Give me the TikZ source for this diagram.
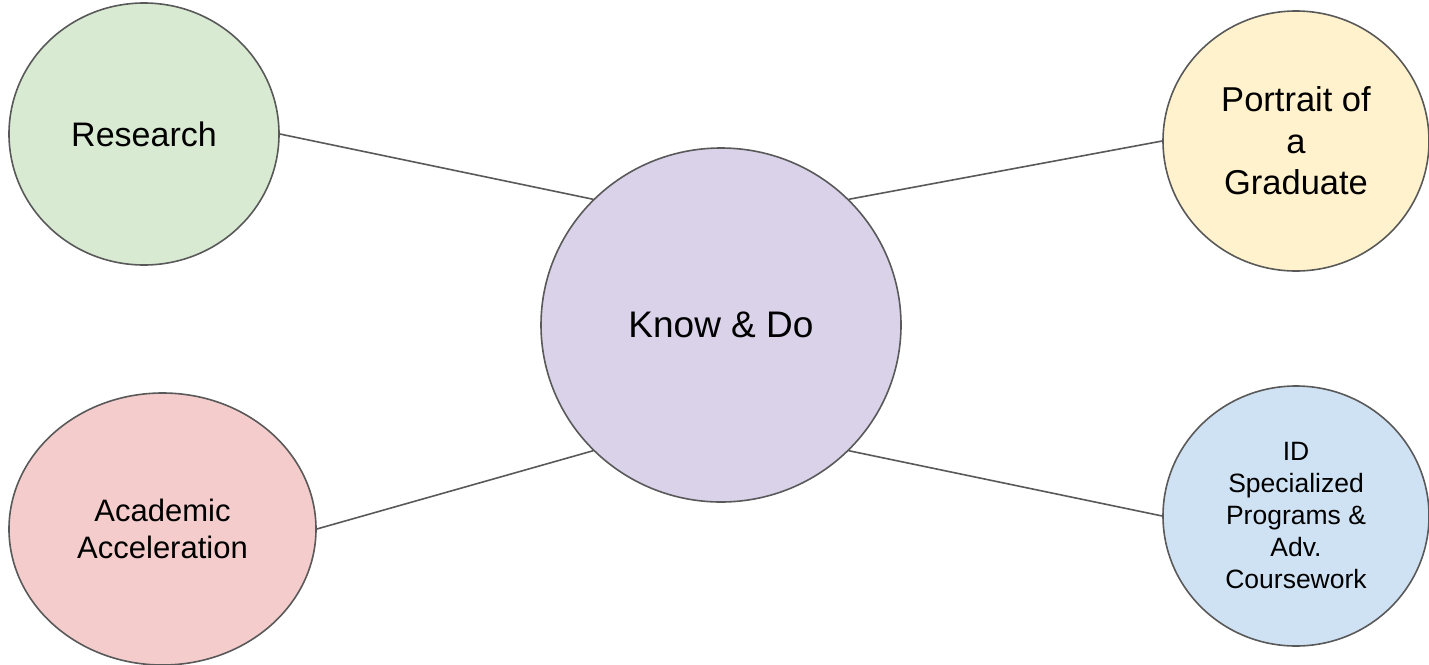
\documentclass[tikz,border=0pt]{standalone}
\usepackage{fontspec}
\setmainfont{Liberation Sans}
\usetikzlibrary{shapes.geometric}
\definecolor{cgreen}{HTML}{D9EAD3}
\definecolor{cyellow}{HTML}{FFF2CC}
\definecolor{cpurple}{HTML}{D9D2E9}
\definecolor{cred}{HTML}{F4CCCC}
\definecolor{cblue}{HTML}{CFE2F3}
\definecolor{edge}{HTML}{595959}
\tikzset{
  bubble/.style={ellipse, draw=edge, line width=1.6pt, inner sep=0pt, align=center, text=black},
  link/.style={draw=edge, line width=1.6pt}
}
\begin{document}
\begin{tikzpicture}[x=1pt,y=-1pt]
\useasboundingbox (0,0) rectangle (1429,664);
\node[bubble, fill=cpurple, minimum width=360pt, minimum height=354pt,
  font=\fontsize{37}{44}\selectfont] (know) at (721,325) {Know \& Do};
\node[bubble, fill=cgreen, minimum width=270pt, minimum height=262pt,
  font=\fontsize{34}{41}\selectfont] (research) at (144,134) {Research};
\node[bubble, fill=cyellow, minimum width=266pt, minimum height=260pt,
  font=\fontsize{34.5}{41.6}\selectfont] (portrait) at (1296,141) {Portrait of\\a\\Graduate};
\node[bubble, fill=cred, minimum width=307pt, minimum height=272pt,
  font=\fontsize{31}{37.3}\selectfont] (accel) at (162.5,529) {Academic\\Acceleration};
\node[bubble, fill=cblue, minimum width=266pt, minimum height=260pt,
  font=\fontsize{26.5}{32}\selectfont] (id) at (1296,516) {ID\\Specialized\\Programs \&\\Adv.\\Coursework};
\draw[link] (research.east) -- (know.north west);
\draw[link] (portrait.west) -- (know.north east);
\draw[link] (accel.east) -- (know.south west);
\draw[link] (id.west) -- (know.south east);
\end{tikzpicture}
\end{document}
